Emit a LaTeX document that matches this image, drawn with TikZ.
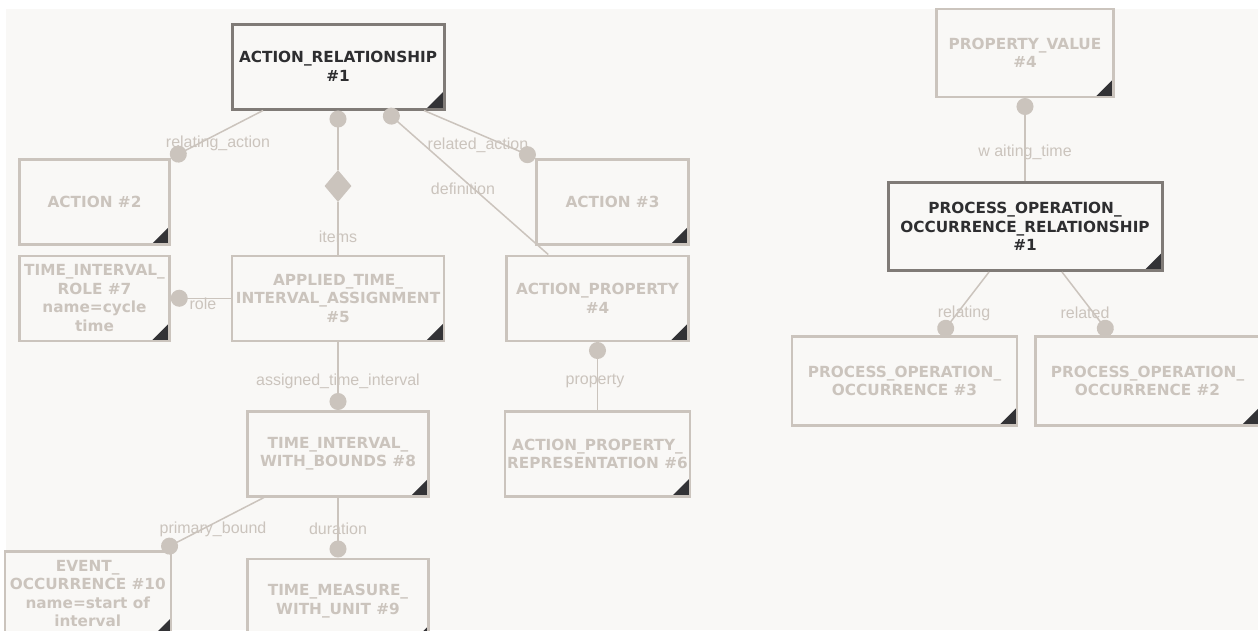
\documentclass[tikz,border=0pt]{standalone}
\usepackage{fontspec}
\setmainfont{DejaVu Sans}
\newfontfamily\lblfont{Liberation Sans}
\usepackage{xcolor}
\definecolor{expbg}{HTML}{F9F8F6}
\definecolor{expline}{HTML}{CBC4BD}
\definecolor{expdark}{HTML}{807B77}
\definecolor{exptext}{HTML}{2E2E30}
\definecolor{expcorner}{HTML}{333336}
\usetikzlibrary{arrows.meta,positioning,shapes.geometric}
\tikzset{
  ent/.style={rectangle, draw=expline, fill=expbg, line width=2.5pt, align=center,
              font=\bfseries\fontsize{15.3}{18.5}\selectfont, text=expline,
              minimum height=85pt, inner sep=2pt,
              path picture={\fill[expcorner] (path picture bounding box.south east)
                -- ++(-18pt,0) -- ++(18pt,18pt) -- cycle;}},
  entmain/.style={ent, draw=expdark, text=exptext, line width=3pt},
  rel/.style={draw=expline, line width=1.5pt},
  enddot/.style={rel, -{Circle[length=17pt]}},
  startdot/.style={rel, {Circle[length=17pt]}-},
  lbl/.style={font=\lblfont\fontsize{16}{18}\selectfont, text=expline, inner sep=0pt},
  agg/.style={diamond, fill=expline, minimum width=27pt, minimum height=32pt, inner sep=0pt},
}

\begin{document}
\begin{tikzpicture}[x=1pt, y=1pt]
  \useasboundingbox (0,0) rectangle (1258,-630);
  \fill[expbg] (6,-9) rectangle (1258,-630);

  % action side
  \node[entmain, minimum width=212pt] (actrel) at (338,-66.5) {ACTION\_RELATIONSHIP\\\#1};
  \node[ent, minimum width=212pt, below=144pt of actrel] (ati) {APPLIED\_TIME\_\\INTERVAL\_ASSIGNMENT\\\#5};
  \node[ent, minimum width=150pt, left=60pt of ati] (tirole) {TIME\_INTERVAL\_\\ROLE \#7\\name=cycle\\time};
  \node[ent, minimum width=150pt, above=9pt of tirole] (act2) {ACTION \#2};
  \node[ent, minimum width=182pt, right=60pt of ati] (ap) {ACTION\_PROPERTY\\\#4};
  \node[ent, minimum width=152pt, anchor=south east] (act3) at ([yshift=9pt]ap.north east) {ACTION \#3};
  \node[ent, minimum width=182pt, below=68pt of ap] (apr) {ACTION\_PROPERTY\_\\REPRESENTATION \#6};
  \node[ent, minimum width=181pt, below=68pt of ati] (twb) {TIME\_INTERVAL\_\\WITH\_BOUNDS \#8};
  \node[ent, minimum width=181pt, below=60pt of twb] (tmu) {TIME\_MEASURE\_\\WITH\_UNIT \#9};
  \node[ent, minimum width=166pt, anchor=north east] (evt) at (172,-550) {EVENT\_\\OCCURRENCE \#10\\name=start of\\interval};
  \node[agg] (items) at (338,-186) {};

  % process side
  \node[entmain, minimum width=274pt, minimum height=88pt] (por) at (1025,-226.5) {PROCESS\_OPERATION\_\\OCCURRENCE\_RELATIONSHIP\\\#1};
  \node[ent, minimum width=177pt, minimum height=88pt, above=83pt of por] (pv) {PROPERTY\_VALUE\\\#4};
  \node[ent, minimum width=225pt, minimum height=89pt, anchor=north] (po3) at (904.5,-335) {PROCESS\_OPERATION\_\\OCCURRENCE \#3};
  \node[ent, minimum width=224pt, minimum height=89pt, right=16pt of po3] (po2) {PROCESS\_OPERATION\_\\OCCURRENCE \#2};

  \draw[enddot] ([xshift=-75pt]actrel.south) -- (act2.north east);
  \draw[startdot] (actrel) -- (items);
  \draw[rel] (items) -- (ati);
  \draw[startdot] ([xshift=47pt]actrel.south) -- ([xshift=43pt]ap.north west);
  \draw[enddot] ([xshift=86pt]actrel.south) -- (act3.north west);
  \draw[enddot] (ati.west) -- (tirole.east);
  \draw[enddot] (ati) -- (twb);
  \draw[enddot] ([xshift=-74pt]twb.south) -- ([xshift=-10pt]evt.north east);
  \draw[enddot] (twb) -- (tmu);
  \draw[startdot] (ap) -- (apr);
  \draw[startdot] (pv) -- (por);
  \draw[enddot] ([xshift=-36pt]por.south) -- ([xshift=36pt]po3.north);
  \draw[enddot] ([xshift=37pt]por.south) -- ([xshift=-37pt]po2.north);

  \node[lbl] (l-relating-action) at (218,-143) {relating\_action};
  \node[lbl] (l-items) at (338,-237) {items};
  \node[lbl] (l-definition) at (463,-189) {definition};
  \node[lbl] (l-related-action) at (478,-145) {related\_action};
  \node[lbl] (l-role) at (203,-304) {role};
  \node[lbl] (l-assigned) at (338,-381) {assigned\_time\_interval};
  \node[lbl] (l-primary) at (213,-529) {primary\_bound};
  \node[lbl] (l-duration) at (338,-529) {duration};
  \node[lbl] (l-property) at (595,-381) {property};
  \node[lbl] (l-waiting) at (1025,-152) {w aiting\_time};
  \node[lbl] (l-relating) at (964,-313) {relating};
  \node[lbl] (l-related) at (1085,-313) {related};
\end{tikzpicture}
\end{document}
